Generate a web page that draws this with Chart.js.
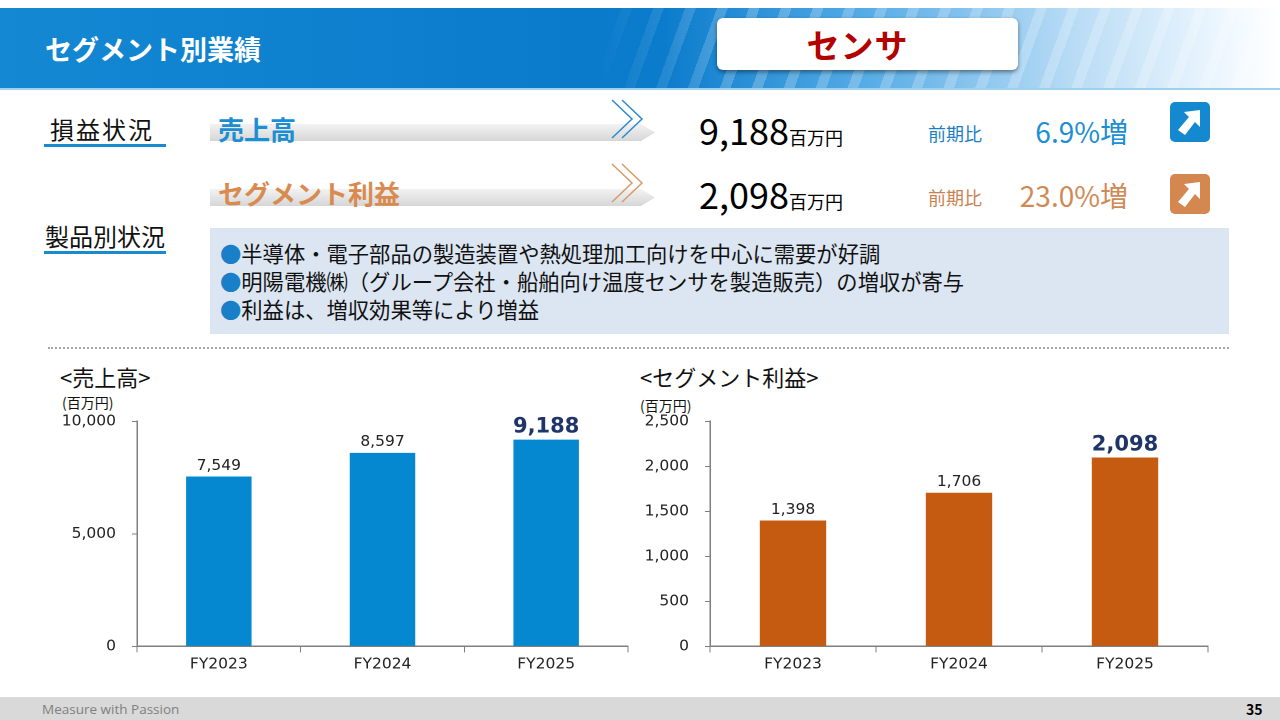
<!DOCTYPE html>
<html lang="ja">
<head>
<meta charset="utf-8">
<script src="https://cdn.jsdelivr.net/npm/chart.js@4.4.1/dist/chart.umd.min.js"></script>
<style>
  html, body { margin:0; padding:0; }
  body { width:1280px; height:720px; position:relative; overflow:hidden; background:#fff;
         font-family:"Noto Sans CJK JP","Noto Sans",sans-serif; color:#000; }
  .abs { position:absolute; white-space:nowrap; }
  #header { left:0; top:8px; width:1280px; height:80px;
    background:linear-gradient(90deg, #1488d3 0%, #0a7bcb 45%, #0b7ccc 52%, #58ade6 68%, #b9dcf5 84%, #f4faff 97%, #ffffff 100%);
    border-bottom:2px solid #9fd0f0; }
  #stripes { left:600px; top:8px; width:680px; height:80px;
    background:repeating-linear-gradient(110deg, rgba(255,255,255,0) 0 20px, rgba(255,255,255,0.22) 20px 30px);
    -webkit-mask-image:linear-gradient(90deg, transparent 0%, #000 20%, #000 100%);
    mask-image:linear-gradient(90deg, transparent 0%, #000 20%, #000 100%); }
  #title { left:45px; top:29px; font-size:27px; font-weight:bold; color:#fff; }
  #segbox { left:717px; top:18px; width:301px; height:52px; background:#fff; border-radius:6px;
    box-shadow:0 2px 4px rgba(0,0,0,0.45); text-align:center; line-height:52px;
    font-size:33px; font-weight:bold; color:#b30000; letter-spacing:1px; text-indent:-20px; }
  .sect { font-size:24px; color:#111; }
  .uline { position:absolute; height:3px; background:#1a8ad0; }
  .band { position:absolute; height:17px;
    background:linear-gradient(180deg,#f2f2f2 0%,#e3e3e3 55%,#d6d6d6 100%);
    clip-path:polygon(0 0, calc(100% - 14px) 0, 100% 50%, calc(100% - 14px) 100%, 0 100%); }
  .kpiname { font-size:26px; font-weight:bold; }
  .big { font-size:36px; color:#000; }
  .big span { font-size:18px; }
  .zen { font-size:18px; }
  .pct { font-size:28px; width:200px; text-align:right; }
  #notes { left:210px; top:228px; width:1019px; height:106px; background:#dce6f2; }
  .note { font-size:21.3px; color:#111; }
  .note b { color:#1a7fc9; font-weight:normal; }
  #dots { left:48px; top:347px; width:1181px; height:0; border-top:2px dotted #a6a6a6; }
  .ctitle { font-size:22px; color:#111; }
  .unit { font-size:14px; color:#111; }
  #footer { left:0; top:697px; width:1280px; height:23px; background:#d9d9d9; }
  #foottxt { left:42px; top:700px; font-size:13.5px; color:#808080; font-family:"Open Sans",sans-serif; }
  #page { left:1246px; top:699px; font-size:14px; font-weight:bold; color:#000; }
  canvas { position:absolute; }
</style>
</head>
<body>
<div id="header" class="abs"></div>
<div id="stripes" class="abs"></div>
<div id="title" class="abs">セグメント別業績</div>
<div id="segbox" class="abs">センサ</div>

<div class="abs sect" style="left:50px;top:111px;letter-spacing:2px;">損益状況</div>
<div class="uline" style="left:44px;top:144px;width:122px;"></div>
<div class="band" style="left:210px;top:124px;width:445px;"></div>
<div class="abs kpiname" style="left:218px;top:110px;color:#1c8ed3;">売上高</div>
<svg class="abs" style="left:608px;top:98px;" width="40" height="44">
  <polyline points="4,2 24,21 4,40" fill="none" stroke="#2a8ad0" stroke-width="1.5"/>
  <polyline points="14,2 34,21 14,40" fill="none" stroke="#2a8ad0" stroke-width="1.5"/>
</svg>
<div class="abs big" style="left:699px;top:103px;">9,188<span>百万円</span></div>
<div class="abs zen" style="left:928px;top:120px;color:#1c7fc4;">前期比</div>
<div class="abs pct" style="left:928px;top:111px;color:#1c8ed3;">6.9%増</div>
<svg class="abs" style="left:1170px;top:102px;" width="40" height="40">
  <rect x="0" y="0" width="40" height="40" rx="5" fill="#1589d0"/>
  <polygon points="30,8 30,25 25,20 15,33 8,28 19,15 14,10" fill="#fff"/>
</svg>

<div class="band" style="left:210px;top:189px;width:445px;"></div>
<div class="abs kpiname" style="left:218px;top:174px;color:#d98a4f;">セグメント利益</div>
<svg class="abs" style="left:608px;top:162px;" width="40" height="44">
  <polyline points="4,2 24,21 4,40" fill="none" stroke="#d99a6a" stroke-width="1.5"/>
  <polyline points="14,2 34,21 14,40" fill="none" stroke="#d99a6a" stroke-width="1.5"/>
</svg>
<div class="abs big" style="left:699px;top:167px;">2,098<span>百万円</span></div>
<div class="abs zen" style="left:928px;top:184px;color:#c9824f;">前期比</div>
<div class="abs pct" style="left:928px;top:175px;color:#d08a55;">23.0%増</div>
<svg class="abs" style="left:1170px;top:174px;" width="40" height="40">
  <rect x="0" y="0" width="40" height="40" rx="5" fill="#d4874f"/>
  <polygon points="30,8 30,25 25,20 15,33 8,28 19,15 14,10" fill="#fff"/>
</svg>

<div class="abs sect" style="left:45px;top:218px;">製品別状況</div>
<div class="uline" style="left:44px;top:251px;width:122px;"></div>
<div id="notes" class="abs"></div>
<div class="abs note" style="left:220px;top:237px;"><b>●</b>半導体・電子部品の製造装置や熱処理加工向けを中心に需要が好調</div>
<div class="abs note" style="left:220px;top:265px;"><b>●</b>明陽電機㈱（グループ会社・船舶向け温度センサを製造販売）の増収が寄与</div>
<div class="abs note" style="left:220px;top:293px;"><b>●</b>利益は、増収効果等により増益</div>

<div id="dots" class="abs"></div>

<div class="abs ctitle" style="left:60px;top:360px;">&lt;売上高&gt;</div>
<div class="abs unit" style="left:62px;top:392px;">(百万円)</div>
<div class="abs ctitle" style="left:640px;top:360px;">&lt;セグメント利益&gt;</div>
<div class="abs unit" style="left:640px;top:395px;">(百万円)</div>

<canvas id="salesChart" style="left:40px;top:396px;width:600px;height:281px;"></canvas>
<canvas id="profitChart" style="left:620px;top:396px;width:600px;height:281px;"></canvas>

<div id="footer" class="abs"></div>
<div id="foottxt" class="abs">Measure with Passion</div>
<div id="page" class="abs">35</div>

<script>
const years = ['FY2023', 'FY2024', 'FY2025'];
const salesValues = [7549, 8597, 9188];
const profitValues = [1398, 1706, 2098];
const salesMax = 10000, salesStep = 5000;
const profitMax = 2500, profitStep = 500;

const tickFont = { family: '"DejaVu Sans", Verdana, sans-serif', size: 15.5 };

// draws the numbers on top of the bars, last one bold and larger
const valueLabels = {
  id: 'valueLabels',
  afterDatasetsDraw(chart) {
    const ctx = chart.ctx;
    const meta = chart.getDatasetMeta(0);
    const vals = chart.data.datasets[0].data;
    ctx.save();
    ctx.textAlign = 'center';
    ctx.textBaseline = 'bottom';
    meta.data.forEach(function (bar, i) {
      const last = i === vals.length - 1;
      ctx.font = last ? 'bold 21px "DejaVu Sans", sans-serif' : '15.5px "DejaVu Sans", sans-serif';
      ctx.fillStyle = last ? '#1f3468' : '#222';
      ctx.fillText(vals[i].toLocaleString('en-US'), bar.x, bar.y - (last ? 2 : 3));
    });
    ctx.restore();
  }
};

function makeChart(id, values, color, max, step, axisWidth) {
  const config = {
    type: 'bar',
    data: {
      labels: years,
      datasets: [{
        data: values,
        backgroundColor: color,
        borderWidth: 0,
        categoryPercentage: 1,
        barPercentage: 0.4
      }]
    },
    options: {
      responsive: false,
      animation: false,
      devicePixelRatio: 2,
      layout: { padding: { top: 12, right: 12, left: 0, bottom: 0 } },
      plugins: { legend: { display: false }, tooltip: { enabled: false } },
      scales: {
        x: {
          grid: { offset: true, drawOnChartArea: false, drawTicks: true, tickLength: 6, color: '#7f7f7f' },
          border: { display: true, color: '#7f7f7f', width: 1.5 },
          ticks: { color: '#222', font: tickFont, padding: 3 }
        },
        y: {
          min: 0,
          max: max,
          afterFit: function (scale) { scale.width = axisWidth; },
          grid: { drawOnChartArea: false, drawTicks: true, tickLength: 5, color: '#7f7f7f' },
          border: { display: true, color: '#7f7f7f', width: 1.5 },
          ticks: {
            stepSize: step,
            color: '#222',
            font: tickFont,
            padding: 16,
            callback: function (v) { return v.toLocaleString('en-US'); }
          }
        }
      }
    },
    plugins: [valueLabels]
  };
  const el = document.getElementById(id);
  el.width = 600; el.height = 281;
  return new Chart(el, config);
}

makeChart('salesChart', salesValues, '#0588d0', salesMax, salesStep, 97);
makeChart('profitChart', profitValues, '#c55a11', profitMax, profitStep, 90);
</script>
</body>
</html>
